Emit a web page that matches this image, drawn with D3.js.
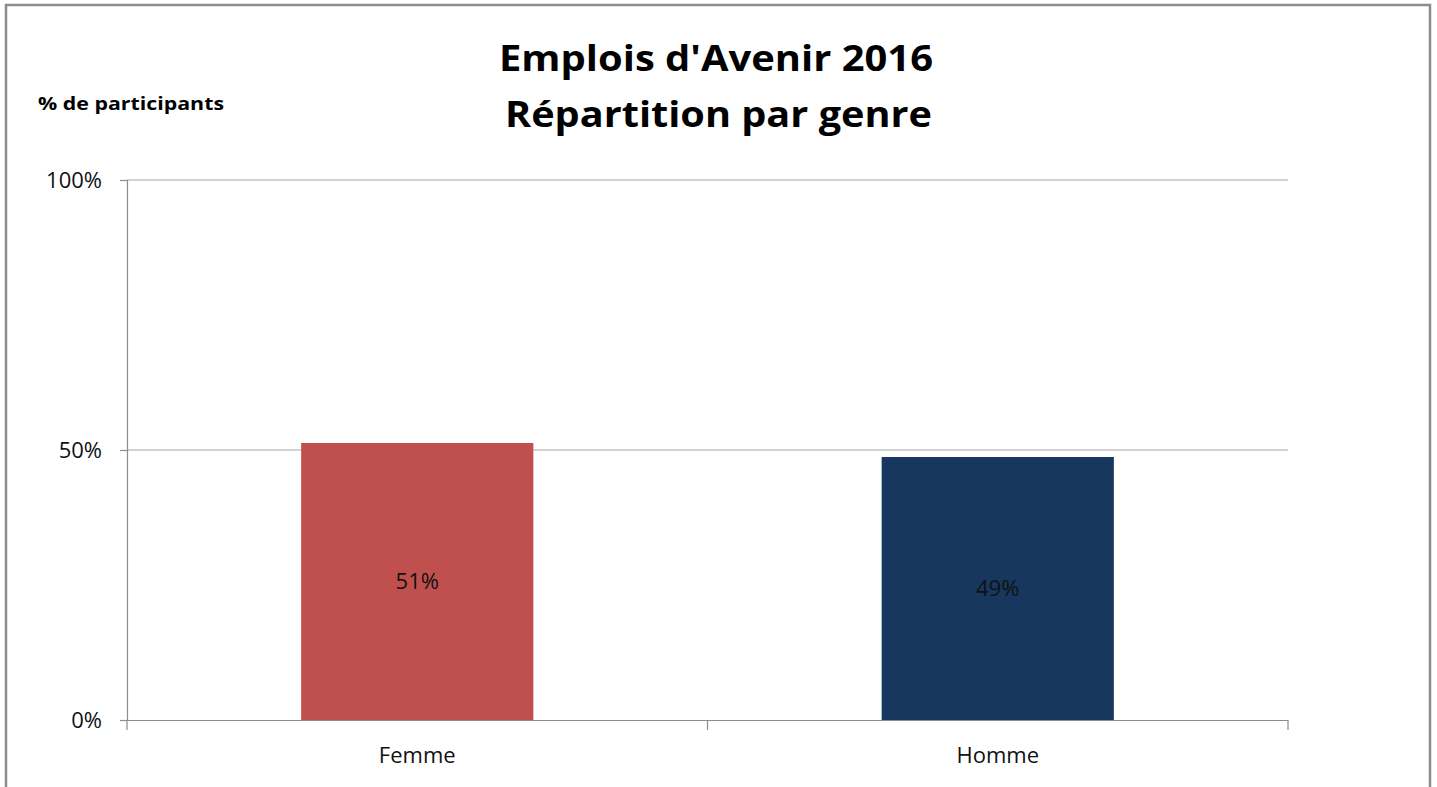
<!DOCTYPE html>
<html><head><meta charset="utf-8">
<script src="https://cdn.jsdelivr.net/npm/d3@7"></script>
<style>body{margin:0;background:#fff}svg{display:block}</style>
</head><body>
<script>
const categories = ["Femme", "Homme"];
const values = [51.3, 48.7];
const labels = ["51%", "49%"];
const yTicks = [0, 50, 100];
const titleLines = ["Emplois d'Avenir 2016", "Répartition par genre"];
const yAxisTitle = "% de participants";
const colors = ["#C0504D", "#17375E"];

const W = 1437, H = 787;
const svg = d3.select("body").append("svg").attr("width", W).attr("height", H);
svg.append("rect").attr("x", 6).attr("y", 5).attr("width", 1424).attr("height", 800)
  .attr("fill", "#fff").attr("stroke", "#8c8c8c").attr("stroke-width", 2.5);

const m = {l: 127, r: 1288, t: 180, b: 720};
const x = d3.scaleBand().domain(categories).range([m.l, m.r]).paddingInner(0.6).paddingOuter(0.3);
const xOuter = d3.scaleBand().domain(categories).range([m.l, m.r]);
const y = d3.scaleLinear().domain([0, 100]).range([m.b, m.t]);
const font = "'Open Sans', 'Noto Sans', sans-serif";
const fs = 22;

// gridlines
svg.append("g").selectAll("line").data(yTicks.filter(d => d > 0)).join("line")
  .attr("x1", m.l).attr("x2", m.r).attr("y1", d => y(d)).attr("y2", d => y(d))
  .attr("stroke", "#a6a6a6").attr("stroke-width", 1.2);

// bars
svg.append("g").selectAll("rect").data(categories).join("rect")
  .attr("x", d => x(d)).attr("width", x.bandwidth())
  .attr("y", (d, i) => y(values[i])).attr("height", (d, i) => y(0) - y(values[i]))
  .attr("fill", (d, i) => colors[i]);

// y axis
const yAxis = svg.append("g").attr("transform", `translate(${m.l},0)`)
  .call(d3.axisLeft(y).tickValues(yTicks).tickFormat(d => d + "%").tickSize(7).tickPadding(18));
yAxis.select(".domain").attr("stroke", "#8c8c8c").attr("stroke-width", 1.2);
yAxis.selectAll(".tick line").attr("stroke", "#8c8c8c").attr("stroke-width", 1.2);
yAxis.selectAll(".tick text").attr("font-family", font).attr("font-size", fs).attr("fill", "#111");

// x axis
const xAxis = svg.append("g").attr("transform", `translate(0,${m.b})`)
  .call(d3.axisBottom(xOuter).tickSize(0).tickPadding(27));
xAxis.select(".domain").attr("stroke", "#8c8c8c").attr("stroke-width", 1.2);
xAxis.selectAll(".tick text").attr("font-family", font).attr("font-size", fs).attr("fill", "#111");
// category boundary ticks
const bounds = [m.l, ...categories.map(c => xOuter(c) + xOuter.bandwidth())];
xAxis.append("g").selectAll("line").data(bounds).join("line")
  .attr("x1", d => d).attr("x2", d => d).attr("y1", 0).attr("y2", 10)
  .attr("stroke", "#8c8c8c").attr("stroke-width", 1.2);

// data labels
svg.append("g").selectAll("text").data(categories).join("text")
  .attr("x", d => x(d) + x.bandwidth() / 2)
  .attr("y", (d, i) => (y(values[i]) + y(0)) / 2)
  .attr("dy", "0.36em").attr("text-anchor", "middle")
  .attr("font-family", font).attr("font-size", fs).attr("fill", "#111")
  .text((d, i) => labels[i]);

// titles
const titlePos = [{cx: 716, y: 71, len: 434}, {cx: 718.5, y: 127, len: 427}];
svg.append("g").selectAll("text").data(titleLines).join("text")
  .attr("x", (d, i) => titlePos[i].cx).attr("y", (d, i) => titlePos[i].y)
  .attr("text-anchor", "middle").attr("font-family", font).attr("font-weight", "bold")
  .attr("font-size", 36).attr("fill", "#000")
  .attr("textLength", (d, i) => titlePos[i].len).attr("lengthAdjust", "spacingAndGlyphs")
  .text(d => d);

svg.append("text").attr("x", 38).attr("y", 110)
  .attr("font-family", font).attr("font-weight", "bold").attr("font-size", 17.5)
  .attr("textLength", 186).attr("lengthAdjust", "spacingAndGlyphs")
  .text(yAxisTitle);
</script>
</body></html>
